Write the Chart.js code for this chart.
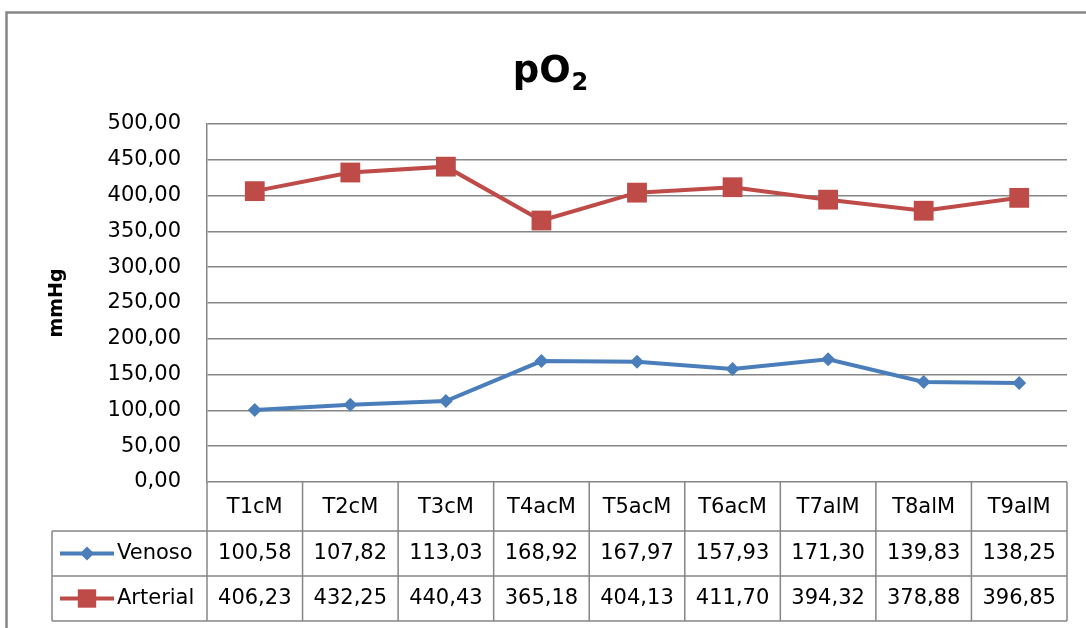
<!DOCTYPE html>
<html>
<head>
<meta charset="utf-8">
<script src="https://cdn.jsdelivr.net/npm/chart.js@4.4.1/dist/chart.umd.min.js"></script>
<style>
  html, body { margin: 0; padding: 0; background: #fff; }
  #wrap { width: 1086px; height: 628px; position: relative; }
</style>
</head>
<body>
<div id="wrap"><canvas id="po2Chart" width="1086" height="628"></canvas></div>
<script>
const categories = ['T1cM', 'T2cM', 'T3cM', 'T4acM', 'T5acM', 'T6acM', 'T7alM', 'T8alM', 'T9alM'];
const venoso = [100.58, 107.82, 113.03, 168.92, 167.97, 157.93, 171.30, 139.83, 138.25];
const arterial = [406.23, 432.25, 440.43, 365.18, 404.13, 411.70, 394.32, 378.88, 396.85];
const yTicks = [0, 50, 100, 150, 200, 250, 300, 350, 400, 450, 500];

const FONT = 'DejaVu Sans';
const GRID = '#868686';
const BLUE = '#4a7ebb';
const RED = '#be4b48';

// numbers with comma decimal, like the source sheet
const fmt = v => v.toFixed(2).replace('.', ',');

const seriesRows = [
  { name: 'Venoso', data: venoso, color: BLUE, style: 'rectRot', radius: 7 },
  { name: 'Arterial', data: arterial, color: RED, style: 'rect', radius: 14 }
];

// title, data table and frame drawn after the chart
const extras = {
  id: 'extras',
  afterDraw(chart) {
    const ctx = chart.ctx;
    const area = chart.chartArea;
    const xs = chart.scales.x;
    const n = categories.length;
    const colW = (area.right - area.left) / n;
    const rowTop = area.bottom;
    const rows = [rowTop, rowTop + 49, rowTop + 94, rowTop + 139];
    const legLeft = 52;

    ctx.save();

    // title pO2
    ctx.fillStyle = '#000';
    ctx.textBaseline = 'alphabetic';
    ctx.textAlign = 'left';
    ctx.font = 'bold 37px ' + FONT;
    const mainW = ctx.measureText('pO').width;
    ctx.font = 'bold 24px ' + FONT;
    const subW = ctx.measureText('2').width;
    const tx = 550 - (mainW + subW) / 2;
    ctx.font = 'bold 37px ' + FONT;
    ctx.fillText('pO', tx, 82);
    ctx.font = 'bold 24px ' + FONT;
    ctx.fillText('2', tx + mainW + 1, 90);

    // table grid
    ctx.strokeStyle = GRID;
    ctx.lineWidth = 1.5;
    ctx.beginPath();
    for (let i = 1; i < rows.length; i++) {
      ctx.moveTo(legLeft, rows[i]);
      ctx.lineTo(area.right, rows[i]);
    }
    ctx.moveTo(legLeft, rows[1]);
    ctx.lineTo(legLeft, rows[3]);
    for (let i = 0; i <= n; i++) {
      const x = area.left + i * colW;
      ctx.moveTo(x, rows[0]);
      ctx.lineTo(x, rows[3]);
    }
    ctx.stroke();

    // header labels
    ctx.font = '21px ' + FONT;
    ctx.textAlign = 'center';
    ctx.textBaseline = 'middle';
    ctx.fillStyle = '#000';
    categories.forEach((c, i) => {
      ctx.fillText(c, xs.getPixelForValue(i), (rows[0] + rows[1]) / 2 + 1);
    });

    // series rows
    seriesRows.forEach((s, r) => {
      const cy = (rows[r + 1] + rows[r + 2]) / 2;
      ctx.strokeStyle = s.color;
      ctx.lineWidth = 4;
      ctx.beginPath();
      ctx.moveTo(60, cy);
      ctx.lineTo(114, cy);
      ctx.stroke();
      ctx.fillStyle = s.color;
      Chart.helpers.drawPoint(ctx, { pointStyle: s.style, radius: s.style === 'rect' ? 13 : 7, rotation: 0, borderWidth: 0 }, 87, cy);
      ctx.fillStyle = '#000';
      ctx.textAlign = 'left';
      ctx.fillText(s.name, 117, cy);
      ctx.textAlign = 'center';
      s.data.forEach((v, i) => {
        ctx.fillText(fmt(v), xs.getPixelForValue(i), cy);
      });
    });

    // outer frame
    ctx.strokeStyle = GRID;
    ctx.lineWidth = 2.5;
    ctx.strokeRect(6.5, 12.5, 1200, 700);

    ctx.restore();
  }
};

new Chart(document.getElementById('po2Chart'), {
  type: 'line',
  data: {
    labels: categories,
    datasets: seriesRows.map(s => ({
      label: s.name,
      data: s.data,
      borderColor: s.color,
      backgroundColor: s.color,
      borderWidth: 4,
      pointStyle: s.style,
      pointRadius: s.radius,
      pointBorderWidth: 0,
      pointHoverRadius: s.radius,
      tension: 0,
      fill: false
    }))
  },
  options: {
    responsive: false,
    animation: false,
    events: [],
    layout: { padding: { top: 124, right: 19, bottom: 146, left: 0 } },
    plugins: {
      legend: { display: false },
      title: { display: false },
      tooltip: { enabled: false }
    },
    scales: {
      x: {
        display: false,
        offset: true
      },
      y: {
        min: 0,
        max: 500,
        afterBuildTicks: s => { s.ticks = yTicks.map(v => ({ value: v })); },
        afterFit: s => { s.width = 207; },
        ticks: {
          padding: 26,
          color: '#000',
          font: { family: FONT, size: 21 },
          callback: v => fmt(v)
        },
        grid: { color: GRID, lineWidth: 1.5, drawTicks: false },
        border: { display: true, color: GRID, width: 1.5 },
        title: {
          display: true,
          text: 'mmHg',
          color: '#000',
          font: { family: FONT, size: 19, weight: 'bold' },
          padding: { top: 46, bottom: 0 }
        }
      }
    }
  },
  plugins: [extras]
});
</script>
</body>
</html>
